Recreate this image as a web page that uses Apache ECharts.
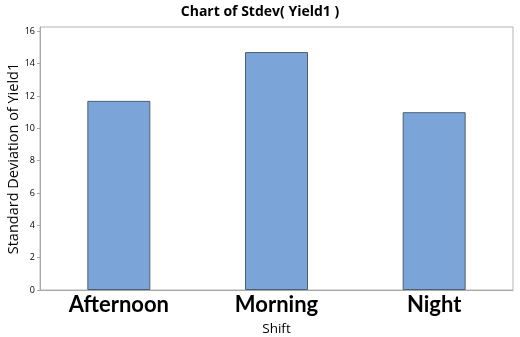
<!DOCTYPE html>
<html>
<head>
<meta charset="utf-8">
<script src="https://cdn.jsdelivr.net/npm/echarts@6/dist/echarts.min.js"></script>
<style>
  html, body { margin: 0; padding: 0; background: #fff; }
  #chart { width: 520px; height: 337px; }
</style>
</head>
<body>
<div id="chart"></div>
<script>
// Standard deviation of Yield1 per shift
const shifts = ['Afternoon', 'Morning', 'Night'];
const stdevYield1 = [11.7, 14.72, 11.0];
const yTicks = [0, 2, 4, 6, 8, 10, 12, 14, 16];

const font = '"Open Sans", "Noto Sans", sans-serif';
const chart = echarts.init(document.getElementById('chart'));
chart.setOption({
  animation: false,
  title: {
    text: 'Chart of Stdev( Yield1 )',
    left: 'center',
    top: 0,
    textStyle: { fontFamily: font, fontSize: 14, fontWeight: 'bold', color: '#000' }
  },
  grid: {
    left: 40, right: 7, top: 27, bottom: 47,
    outerBoundsMode: 'none',
    containLabel: false,
    show: true, borderColor: '#b4b4b4', borderWidth: 1
  },
  xAxis: {
    type: 'category',
    data: shifts,
    name: 'Shift',
    nameLocation: 'middle',
    nameGap: 32,
    nameMoveOverlap: false,
    nameTextStyle: { fontFamily: font, fontSize: 13.5, color: '#000' },
    axisLine: { lineStyle: { color: '#a8a8a8' } },
    axisTick: { alignWithLabel: true, length: 3, lineStyle: { color: '#a8a8a8' } },
    axisLabel: { fontFamily: '"Lato", "Open Sans", sans-serif', fontSize: 22, fontWeight: 'bold', color: '#000', margin: 4 }
  },
  yAxis: {
    type: 'value',
    min: 0,
    max: 16.27,
    interval: 2,
    name: 'Standard Deviation of Yield1',
    nameLocation: 'middle',
    nameGap: 19,
    nameMoveOverlap: false,
    nameTextStyle: { fontFamily: font, fontSize: 14.5, color: '#000' },
    axisLine: { show: true, lineStyle: { color: '#a8a8a8' } },
    axisTick: { show: true, length: 3, lineStyle: { color: '#a8a8a8' } },
    axisLabel: {
      fontFamily: font, fontSize: 9, color: '#000', margin: 5,
      showMaxLabel: false,
      formatter: v => (yTicks.includes(v) ? String(v) : '')
    },
    splitLine: { show: false }
  },
  series: [{
    type: 'bar',
    data: stdevYield1,
    barWidth: 63,
    itemStyle: { color: '#7ba5d9', borderColor: '#4f5f73', borderWidth: 1 }
  }]
});
</script>
</body>
</html>
